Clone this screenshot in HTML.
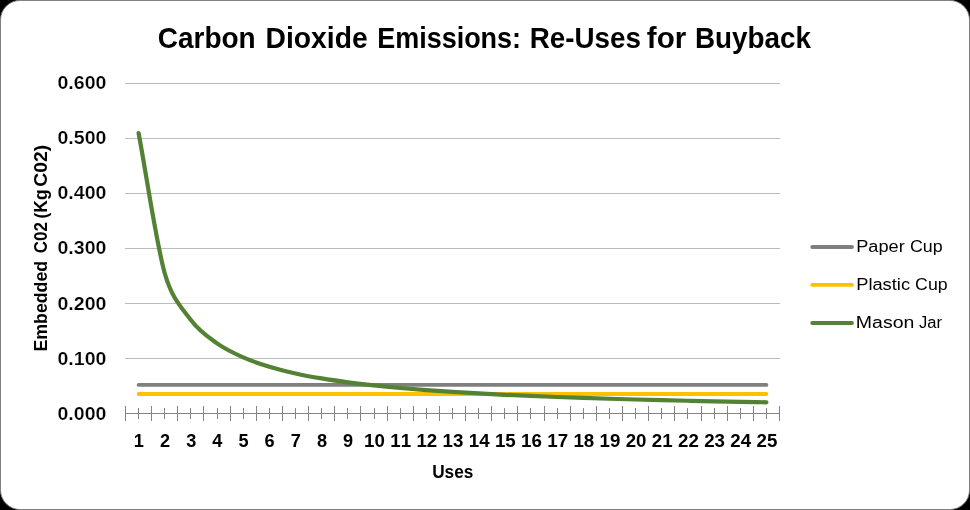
<!DOCTYPE html>
<html lang="en"><head><meta charset="utf-8"><title>Carbon Dioxide Emissions: Re-Uses for Buyback</title>
<style>
html,body{margin:0;padding:0;background:#000;}
body{width:970px;height:510px;overflow:hidden;}
svg{display:block;}
text{font-family:"Liberation Sans","DejaVu Sans",sans-serif;fill:#000;font-kerning:none;font-variant-ligatures:none;}
.b{font-weight:700;}
.n{font-weight:700;stroke:#fff;stroke-width:0.18px;}
</style></head><body>
<svg width="970" height="510" viewBox="0 0 970 510">
<rect x="0.5" y="0.5" width="969" height="509" rx="19.5" ry="19.5" fill="#fff" stroke="#808080" stroke-width="1"/>
<line x1="125" y1="358.5" x2="780" y2="358.5" stroke="#bcbcbc" stroke-width="1"/>
<line x1="125" y1="303.5" x2="780" y2="303.5" stroke="#bcbcbc" stroke-width="1"/>
<line x1="125" y1="248.5" x2="780" y2="248.5" stroke="#bcbcbc" stroke-width="1"/>
<line x1="125" y1="193.5" x2="780" y2="193.5" stroke="#bcbcbc" stroke-width="1"/>
<line x1="125" y1="138.5" x2="780" y2="138.5" stroke="#bcbcbc" stroke-width="1"/>
<line x1="125" y1="83.5" x2="780" y2="83.5" stroke="#bcbcbc" stroke-width="1"/>
<line x1="125" y1="413.5" x2="780" y2="413.5" stroke="#848484" stroke-width="1"/>
<path d="M125.5 406V421M151.5 406V421M177.5 406V421M203.5 406V421M230.5 406V421M256.5 406V421M282.5 406V421M308.5 406V421M334.5 406V421M360.5 406V421M387.5 406V421M413.5 406V421M439.5 406V421M465.5 406V421M491.5 406V421M517.5 406V421M544.5 406V421M570.5 406V421M596.5 406V421M622.5 406V421M648.5 406V421M674.5 406V421M701.5 406V421M727.5 406V421M753.5 406V421M779.5 406V421M138.5 408V419M164.5 408V419M190.5 408V419M217.5 408V419M243.5 408V419M269.5 408V419M295.5 408V419M321.5 408V419M347.5 408V419M374.5 408V419M400.5 408V419M426.5 408V419M452.5 408V419M478.5 408V419M504.5 408V419M530.5 408V419M557.5 408V419M583.5 408V419M609.5 408V419M635.5 408V419M661.5 408V419M687.5 408V419M714.5 408V419M740.5 408V419M766.5 408V419" stroke="#848484" stroke-width="1" fill="none"/>
<line x1="138.58" y1="384.90" x2="766.42" y2="384.90" stroke="#7f7f7f" stroke-width="3.8" stroke-linecap="round"/>
<line x1="138.58" y1="393.98" x2="766.42" y2="393.98" stroke="#ffc000" stroke-width="3.8" stroke-linecap="round"/>
<path d="M138.58 133.00 C147.30 179.75 156.02 242.08 164.74 273.25 C171.96 299.05 182.18 308.31 190.90 320.00 C199.62 331.69 208.34 337.14 217.06 343.38 C225.78 349.61 234.50 353.50 243.22 357.40 C251.94 361.30 260.66 364.08 269.38 366.75 C278.10 369.42 286.82 371.48 295.54 373.43 C304.26 375.38 312.98 376.95 321.70 378.44 C330.42 379.92 339.14 381.16 347.86 382.33 C356.58 383.50 365.30 384.51 374.02 385.45 C382.74 386.39 391.46 387.22 400.18 388.00 C408.90 388.78 417.62 389.47 426.34 390.12 C435.06 390.78 443.78 391.37 452.50 391.92 C461.22 392.48 469.94 392.98 478.66 393.46 C487.38 393.94 496.10 394.38 504.82 394.80 C513.54 395.22 522.26 395.60 530.98 395.97 C539.70 396.34 548.42 396.68 557.14 397.00 C565.86 397.32 574.58 397.63 583.30 397.92 C592.02 398.21 600.74 398.48 609.46 398.74 C618.18 399.00 626.90 399.24 635.62 399.48 C644.34 399.71 653.06 399.93 661.78 400.14 C670.50 400.36 679.22 400.56 687.94 400.75 C696.66 400.94 705.38 401.13 714.10 401.30 C722.82 401.48 731.54 401.65 740.26 401.81 C748.98 401.98 757.70 402.12 766.42 402.28" stroke="#548235" stroke-width="4.2" stroke-linecap="round" stroke-linejoin="round" fill="none"/>
<text class="b" y="48.00" font-size="29.50"><tspan x="157.75" textLength="97.88" lengthAdjust="spacingAndGlyphs">Carbon</tspan> <tspan x="265.61" textLength="102.06" lengthAdjust="spacingAndGlyphs">Dioxide</tspan> <tspan x="377.20" textLength="143.90" lengthAdjust="spacingAndGlyphs">Emissions:</tspan> <tspan x="529.74" textLength="111.20" lengthAdjust="spacingAndGlyphs">Re-Uses</tspan> <tspan x="646.80" textLength="39.35" lengthAdjust="spacingAndGlyphs">for</tspan> <tspan x="694.94" textLength="116.03" lengthAdjust="spacingAndGlyphs">Buyback</tspan></text>
<text class="n" x="57.53" y="419.50" font-size="17.60" textLength="48.87" lengthAdjust="spacingAndGlyphs">0.000</text>
<text class="n" x="57.53" y="364.50" font-size="17.60" textLength="48.87" lengthAdjust="spacingAndGlyphs">0.100</text>
<text class="n" x="57.53" y="309.50" font-size="17.60" textLength="48.87" lengthAdjust="spacingAndGlyphs">0.200</text>
<text class="n" x="57.53" y="253.50" font-size="17.60" textLength="48.87" lengthAdjust="spacingAndGlyphs">0.300</text>
<text class="n" x="57.53" y="198.50" font-size="17.60" textLength="48.87" lengthAdjust="spacingAndGlyphs">0.400</text>
<text class="n" x="57.53" y="143.50" font-size="17.60" textLength="48.87" lengthAdjust="spacingAndGlyphs">0.500</text>
<text class="n" x="57.53" y="88.50" font-size="17.60" textLength="48.87" lengthAdjust="spacingAndGlyphs">0.600</text>
<text class="b" x="133.83" y="446.50" font-size="17.60" textLength="10.10" lengthAdjust="spacingAndGlyphs">1</text>
<text class="b" x="159.99" y="446.50" font-size="17.60" textLength="10.10" lengthAdjust="spacingAndGlyphs">2</text>
<text class="b" x="186.15" y="446.50" font-size="17.60" textLength="10.10" lengthAdjust="spacingAndGlyphs">3</text>
<text class="b" x="212.31" y="446.50" font-size="17.60" textLength="10.10" lengthAdjust="spacingAndGlyphs">4</text>
<text class="b" x="238.47" y="446.50" font-size="17.60" textLength="10.10" lengthAdjust="spacingAndGlyphs">5</text>
<text class="b" x="264.63" y="446.50" font-size="17.60" textLength="10.10" lengthAdjust="spacingAndGlyphs">6</text>
<text class="b" x="290.79" y="446.50" font-size="17.60" textLength="10.10" lengthAdjust="spacingAndGlyphs">7</text>
<text class="b" x="316.95" y="446.50" font-size="17.60" textLength="10.10" lengthAdjust="spacingAndGlyphs">8</text>
<text class="b" x="343.11" y="446.50" font-size="17.60" textLength="10.10" lengthAdjust="spacingAndGlyphs">9</text>
<text class="b" x="364.12" y="446.50" font-size="17.60" textLength="20.80" lengthAdjust="spacingAndGlyphs">10</text>
<text class="b" x="390.28" y="446.50" font-size="17.60" textLength="20.80" lengthAdjust="spacingAndGlyphs">11</text>
<text class="b" x="416.44" y="446.50" font-size="17.60" textLength="20.80" lengthAdjust="spacingAndGlyphs">12</text>
<text class="b" x="442.60" y="446.50" font-size="17.60" textLength="20.80" lengthAdjust="spacingAndGlyphs">13</text>
<text class="b" x="468.76" y="446.50" font-size="17.60" textLength="20.80" lengthAdjust="spacingAndGlyphs">14</text>
<text class="b" x="494.92" y="446.50" font-size="17.60" textLength="20.80" lengthAdjust="spacingAndGlyphs">15</text>
<text class="b" x="521.08" y="446.50" font-size="17.60" textLength="20.80" lengthAdjust="spacingAndGlyphs">16</text>
<text class="b" x="547.24" y="446.50" font-size="17.60" textLength="20.80" lengthAdjust="spacingAndGlyphs">17</text>
<text class="b" x="573.40" y="446.50" font-size="17.60" textLength="20.80" lengthAdjust="spacingAndGlyphs">18</text>
<text class="b" x="599.56" y="446.50" font-size="17.60" textLength="20.80" lengthAdjust="spacingAndGlyphs">19</text>
<text class="b" x="625.72" y="446.50" font-size="17.60" textLength="20.80" lengthAdjust="spacingAndGlyphs">20</text>
<text class="b" x="651.88" y="446.50" font-size="17.60" textLength="20.80" lengthAdjust="spacingAndGlyphs">21</text>
<text class="b" x="678.04" y="446.50" font-size="17.60" textLength="20.80" lengthAdjust="spacingAndGlyphs">22</text>
<text class="b" x="704.20" y="446.50" font-size="17.60" textLength="20.80" lengthAdjust="spacingAndGlyphs">23</text>
<text class="b" x="730.36" y="446.50" font-size="17.60" textLength="20.80" lengthAdjust="spacingAndGlyphs">24</text>
<text class="b" x="756.52" y="446.50" font-size="17.60" textLength="20.80" lengthAdjust="spacingAndGlyphs">25</text>
<text class="b" x="432.17" y="477.60" font-size="17.60" textLength="41.14" lengthAdjust="spacingAndGlyphs">Uses</text>
<text transform="translate(47,350.4) rotate(-90)" class="b" y="0.00" font-size="17.60"><tspan x="-1.19" textLength="90.76" lengthAdjust="spacingAndGlyphs">Embedded</tspan> <tspan x="97.21" textLength="31.07" lengthAdjust="spacingAndGlyphs">C02</tspan> <tspan x="131.93" textLength="29.03" lengthAdjust="spacingAndGlyphs">(Kg</tspan> <tspan x="163.71" textLength="41.75" lengthAdjust="spacingAndGlyphs">C02)</tspan></text>
<line x1="812.2" y1="247.0" x2="852" y2="247.0" stroke="#7f7f7f" stroke-width="3.8" stroke-linecap="round"/>
<line x1="812.2" y1="284.8" x2="852" y2="284.8" stroke="#ffc000" stroke-width="3.8" stroke-linecap="round"/>
<line x1="812.2" y1="323.0" x2="852" y2="323.0" stroke="#548235" stroke-width="3.8" stroke-linecap="round"/>
<text class="r" y="252.40" font-size="17.30"><tspan x="856.21" textLength="48.49" lengthAdjust="spacingAndGlyphs">Paper</tspan> <tspan x="909.90" textLength="32.65" lengthAdjust="spacingAndGlyphs">Cup</tspan></text>
<text class="r" y="290.00" font-size="17.30"><tspan x="856.20" textLength="53.88" lengthAdjust="spacingAndGlyphs">Plastic</tspan> <tspan x="915.10" textLength="32.55" lengthAdjust="spacingAndGlyphs">Cup</tspan></text>
<text class="r" y="328.20" font-size="17.30"><tspan x="855.80" textLength="58.57" lengthAdjust="spacingAndGlyphs">Mason</tspan> <tspan x="919.04" textLength="23.03" lengthAdjust="spacingAndGlyphs">Jar</tspan></text>
</svg>
</body></html>
